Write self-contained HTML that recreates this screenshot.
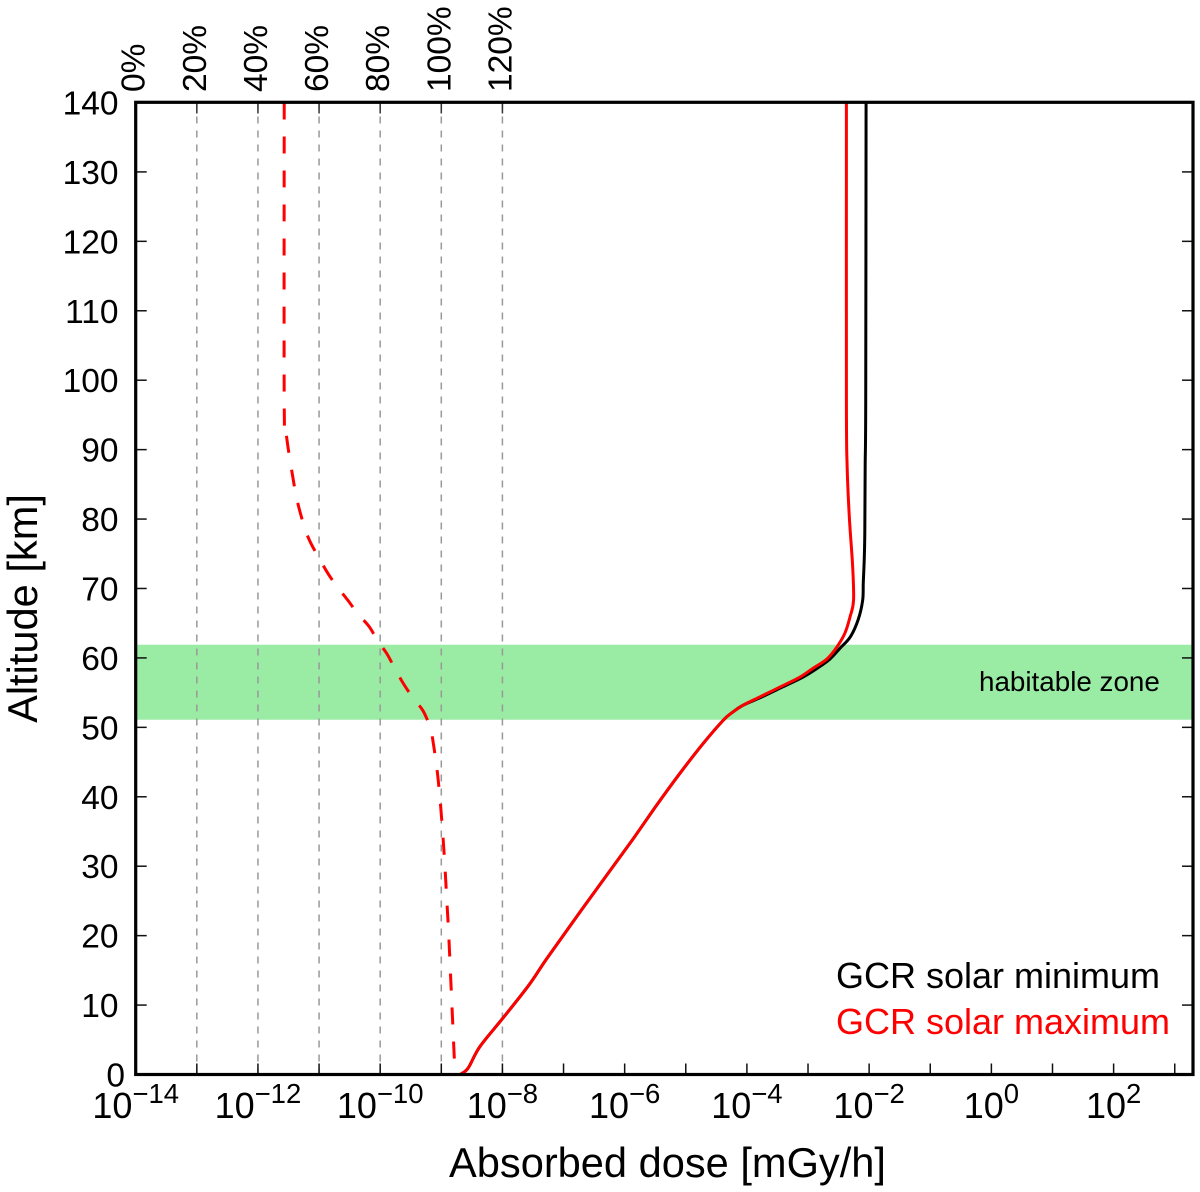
<!DOCTYPE html>
<html lang="en">
<head>
<meta charset="utf-8">
<title>Absorbed dose vs altitude</title>
<style>
html,body{margin:0;padding:0;background:#fff;}
svg{display:block;font-family:"Liberation Sans",Arial,sans-serif;}
</style>
</head>
<body>
<svg id="chart" xmlns="http://www.w3.org/2000/svg" width="1200" height="1192" viewBox="0 0 1200 1192">
  <rect x="0" y="0" width="1200" height="1192" fill="#ffffff"/>
  <g id="band"></g>
  <g id="grid"></g>
  <g id="series"></g>
  <g id="ticks"></g>
  <rect x="135.7" y="102.3" width="1057.3" height="972.2" fill="none" stroke="#000" stroke-width="3.2"/>
  <g id="labels"></g>
  <text x="667.5" y="1177" text-anchor="middle" font-size="41.6" fill="#000">Absorbed dose [mGy/h]</text>
  <text transform="translate(37,608.5) rotate(-90)" text-anchor="middle" font-size="41.6" fill="#000">Altitude [km]</text>
  <text x="979" y="691" font-size="27.8" fill="#000">habitable zone</text>
  <text x="836" y="988" font-size="36" fill="#000">GCR solar minimum</text>
  <text x="836" y="1034" font-size="36" fill="#ff0000">GCR solar maximum</text>
</svg>
<script>
// Axis tick values
var xExponents = [-14,-13,-12,-11,-10,-9,-8,-7,-6,-5,-4,-3,-2,-1,0,1,2,3];
var xLabelExponents = [-14,-12,-10,-8,-6,-4,-2,0,2];
var yTickValues = [0,10,20,30,40,50,60,70,80,90,100,110,120,130,140];
var topPercentLabels = [0,20,40,60,80,100,120];
var topPercentExponents = [-14,-13,-12,-11,-10,-9,-8];
var habitableZone = [51.1, 61.9];

// Solar minimum: altitude in km, log10 of dose
var minAltitude = [0,0.94,4,8.14,12.9,16.74,24.4,33.3,38.8,43.4,47.7,51.06,52.2,53.2,54.4,55.8,57.25,58.5,59.85,61.4,63,65.5,68.3,70.8,74,78,87.6,97,140];
var minLogDose = [-8.69,-8.56,-8.37,-7.99,-7.565,-7.27,-6.649,-5.913,-5.476,-5.094,-4.713,-4.383,-4.23,-4.06,-3.75,-3.42,-3.08,-2.85,-2.64,-2.476,-2.31,-2.18,-2.106,-2.096,-2.081,-2.071,-2.065,-2.056,-2.05];

// Solar maximum: altitude in km, log10 of dose
var maxAltitude = [0,0.94,4,8.14,12.9,16.74,24.4,33.3,38.8,43.4,47.7,51.06,52.2,53.2,54.4,55.8,57.25,58.5,59.85,61.6,63.6,65.9,68.3,73.2,80.4,87.6,97.2,140];
var maxLogDose = [-8.69,-8.56,-8.37,-7.99,-7.565,-7.27,-6.649,-5.913,-5.476,-5.094,-4.713,-4.383,-4.23,-4.06,-3.785,-3.46,-3.13,-2.92,-2.69,-2.526,-2.395,-2.313,-2.255,-2.27,-2.325,-2.36,-2.372,-2.372];

// Dashed red profile: altitude in km, log10 of dose
var dashedAltitude = [140,97,92.5,86.6,82,77.4,74.1,72.1,70.1,68.2,66.3,64.5,62.3,60.6,58.3,56.3,54.2,52.4,50,49.2,44.3,39.6,34.8,29.9,25.1,20.4,9.7,0];
var dashedLogDose = [-11.57,-11.57,-11.54,-11.44,-11.34,-11.18,-10.98,-10.85,-10.69,-10.52,-10.36,-10.18,-10.03,-9.89,-9.75,-9.62,-9.46,-9.3,-9.18,-9.157,-9.075,-9.02,-8.977,-8.94,-8.91,-8.88,-8.825,-8.775];

var NS = 'http://www.w3.org/2000/svg';
function xScale(e){ return 135.7 + (e + 14) * 61.12; }
function yScale(km){ return 1074.5 - km * 6.943; }
function make(tag, attrs, parent){
  var el = document.createElementNS(NS, tag);
  for (var k in attrs) el.setAttribute(k, attrs[k]);
  parent.appendChild(el);
  return el;
}
var bandLayer = document.getElementById('band');
var gridLayer = document.getElementById('grid');
var seriesLayer = document.getElementById('series');
var tickLayer = document.getElementById('ticks');
var labelLayer = document.getElementById('labels');

// Habitable band
var bandRect = make('rect', {x:135.7, y:yScale(habitableZone[1]), width:1057.3, height:yScale(habitableZone[0])-yScale(habitableZone[1]), fill:'#9aeba3'}, bandLayer);



// Percent grid lines, top ticks and labels
topPercentExponents.forEach(function(e, i){
  var x = xScale(e);
  if (i > 0) {
    var line = make('line', {x1:x, x2:x, y1:yScale(140), y2:yScale(0), stroke:'#999', 'stroke-width':1.5, 'stroke-dasharray':'7 7'}, gridLayer);
    
    
    var topTick = make('line', {x1:x, x2:x, y1:yScale(140), y2:yScale(140)+11, stroke:'#333', 'stroke-width':1.5}, tickLayer);
    
    
  }
  var t = make('text', {transform:'translate(' + (x+9) + ',92) rotate(-90)', 'font-size':33.5, fill:'#000'}, labelLayer);
  t.textContent = topPercentLabels[i] + '%';
  
  
});

// Series drawn as smooth curves through the data points
function pathFrom(alts, vals){
  var pts = alts.map(function(a, i){ return [xScale(vals[i]), yScale(a)]; });
  var d = 'M' + pts[0][0].toFixed(2) + ' ' + pts[0][1].toFixed(2);
  for (var i = 0; i < pts.length - 1; i++) {
    var p0 = pts[Math.max(i - 1, 0)], p1 = pts[i], p2 = pts[i + 1], p3 = pts[Math.min(i + 2, pts.length - 1)];
    var c1x = p1[0] + (p2[0] - p0[0]) / 6, c1y = p1[1] + (p2[1] - p0[1]) / 6;
    var c2x = p2[0] - (p3[0] - p1[0]) / 6, c2y = p2[1] - (p3[1] - p1[1]) / 6;
    d += ' C' + c1x.toFixed(2) + ' ' + c1y.toFixed(2) + ' ' + c2x.toFixed(2) + ' ' + c2y.toFixed(2) + ' ' + p2[0].toFixed(2) + ' ' + p2[1].toFixed(2);
  }
  return d;
}
var minLine = make('path', {d:pathFrom(minAltitude, minLogDose), fill:'none', stroke:'#000', 'stroke-width':3, 'stroke-linejoin':'round'}, seriesLayer);


var maxLine = make('path', {d:pathFrom(maxAltitude, maxLogDose), fill:'none', stroke:'#ff0000', 'stroke-width':3, 'stroke-linejoin':'round'}, seriesLayer);


var dashedLine = make('path', {d:pathFrom(dashedAltitude, dashedLogDose), fill:'none', stroke:'#ff0000', 'stroke-width':3, 'stroke-dasharray':'17 17'}, seriesLayer);



// Bottom ticks
xExponents.forEach(function(e){
  var x = xScale(e);
  var tick = make('line', {x1:x, x2:x, y1:1074.5, y2:1063.5, stroke:'#111', 'stroke-width':1.5}, tickLayer);
  
  
});

// X labels
xLabelExponents.forEach(function(e){
  var t = make('text', {x:xScale(e), y:1118, 'text-anchor':'middle', 'font-size':36, fill:'#000'}, labelLayer);
  
  
  var base = make('tspan', {}, t);
  base.textContent = '10';
  var sup = make('tspan', {dy:-15, 'font-size':27.5}, t);
  sup.textContent = String(e).replace('-', '\u2212');
});

// Y ticks and labels
yTickValues.forEach(function(v){
  var y = yScale(v);
  if (v > 0 && v < 140) {
    var left = make('line', {x1:135.7, x2:146.7, y1:y, y2:y, stroke:'#111', 'stroke-width':1.5}, tickLayer);
    
    
    var right = make('line', {x1:1193, x2:1182, y1:y, y2:y, stroke:'#111', 'stroke-width':1.5}, tickLayer);
    
    
  }
  var t = make('text', {x:(v === 0 ? 125 : 118.5), y:y+12, 'text-anchor':'end', 'font-size':33.5, fill:'#000'}, labelLayer);
  t.textContent = String(v);
  
  
});
</script>
</body>
</html>
